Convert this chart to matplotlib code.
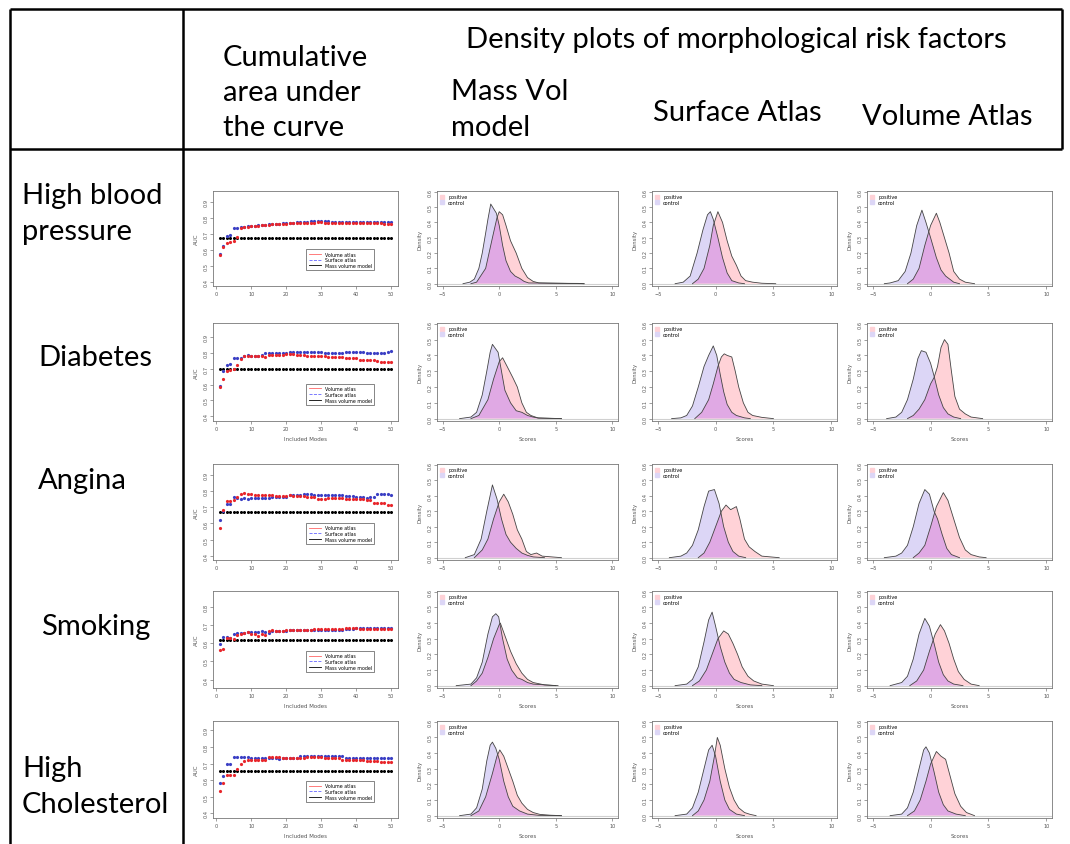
import matplotlib
matplotlib.use("Agg")
import matplotlib.pyplot as plt
from matplotlib.lines import Line2D

W, H = 1070, 845

# --- Text of the table ---
row_labels = ["High blood\npressure", "Diabetes", "Angina", "Smoking", "High\nCholesterol"]
header_auc = "Cumulative\narea under\nthe curve"
header_density = "Density plots of morphological risk factors"
col_titles = ["Mass Vol\nmodel", "Surface Atlas", "Volume Atlas"]

# --- AUC curves (x = included modes 1..50) ---
modes = list(range(1, 51))

hbp_vol = [0.566, 0.620, 0.641, 0.650, 0.658, 0.683, 0.736, 0.742, 0.745, 0.747,
           0.748, 0.752, 0.754, 0.756, 0.758, 0.760, 0.761, 0.762, 0.764, 0.765,
           0.767, 0.767, 0.768, 0.769, 0.769, 0.770, 0.771, 0.771, 0.772, 0.772,
           0.771, 0.771, 0.770, 0.770, 0.770, 0.769, 0.769, 0.769, 0.768, 0.768,
           0.768, 0.768, 0.767, 0.767, 0.767, 0.766, 0.766, 0.765, 0.765, 0.763]
hbp_surf = [0.572, 0.625, 0.688, 0.694, 0.740, 0.740, 0.741, 0.746, 0.748, 0.750,
            0.751, 0.754, 0.756, 0.757, 0.760, 0.762, 0.762, 0.763, 0.766, 0.767,
            0.770, 0.771, 0.773, 0.774, 0.776, 0.777, 0.778, 0.778, 0.779, 0.779,
            0.779, 0.778, 0.777, 0.777, 0.776, 0.776, 0.776, 0.775, 0.775, 0.775,
            0.776, 0.776, 0.775, 0.775, 0.775, 0.774, 0.774, 0.774, 0.774, 0.773]
hbp_mass = 0.677

dia_vol = [0.585, 0.635, 0.683, 0.694, 0.700, 0.725, 0.760, 0.780, 0.780, 0.780,
           0.780, 0.780, 0.780, 0.777, 0.787, 0.787, 0.787, 0.787, 0.787, 0.793,
           0.793, 0.793, 0.790, 0.790, 0.790, 0.780, 0.780, 0.780, 0.780, 0.780,
           0.780, 0.775, 0.775, 0.775, 0.775, 0.775, 0.767, 0.767, 0.767, 0.767,
           0.758, 0.758, 0.758, 0.758, 0.758, 0.752, 0.746, 0.746, 0.746, 0.746]
dia_surf = [0.590, 0.683, 0.725, 0.730, 0.770, 0.770, 0.770, 0.780, 0.787, 0.783,
            0.780, 0.780, 0.787, 0.797, 0.800, 0.800, 0.800, 0.800, 0.800, 0.800,
            0.808, 0.808, 0.808, 0.808, 0.808, 0.808, 0.808, 0.808, 0.808, 0.808,
            0.802, 0.802, 0.802, 0.802, 0.802, 0.802, 0.808, 0.808, 0.808, 0.808,
            0.808, 0.808, 0.802, 0.802, 0.802, 0.802, 0.802, 0.802, 0.806, 0.815]
dia_mass = 0.700

ang_vol = [0.575, 0.685, 0.737, 0.737, 0.742, 0.762, 0.783, 0.785, 0.783, 0.780,
           0.773, 0.773, 0.773, 0.773, 0.773, 0.775, 0.769, 0.769, 0.769, 0.769,
           0.773, 0.769, 0.769, 0.769, 0.769, 0.762, 0.762, 0.762, 0.752, 0.752,
           0.752, 0.756, 0.756, 0.756, 0.756, 0.756, 0.748, 0.748, 0.748, 0.748,
           0.748, 0.748, 0.742, 0.742, 0.727, 0.727, 0.727, 0.727, 0.712, 0.712]
ang_surf = [0.623, 0.675, 0.717, 0.717, 0.762, 0.758, 0.748, 0.754, 0.748, 0.758,
            0.757, 0.757, 0.757, 0.757, 0.757, 0.765, 0.765, 0.765, 0.765, 0.765,
            0.773, 0.773, 0.773, 0.773, 0.783, 0.780, 0.780, 0.773, 0.773, 0.773,
            0.773, 0.773, 0.773, 0.773, 0.773, 0.773, 0.771, 0.771, 0.771, 0.762,
            0.762, 0.762, 0.756, 0.765, 0.765, 0.783, 0.780, 0.780, 0.780, 0.773]
ang_mass = 0.671

smk_vol = [0.562, 0.568, 0.628, 0.628, 0.625, 0.647, 0.653, 0.657, 0.662, 0.653,
           0.653, 0.643, 0.651, 0.647, 0.666, 0.672, 0.666, 0.666, 0.666, 0.675,
           0.675, 0.675, 0.674, 0.674, 0.674, 0.674, 0.674, 0.680, 0.680, 0.680,
           0.680, 0.680, 0.680, 0.680, 0.680, 0.680, 0.683, 0.683, 0.683, 0.683,
           0.680, 0.680, 0.680, 0.680, 0.680, 0.680, 0.680, 0.680, 0.680, 0.680]
smk_surf = [0.594, 0.636, 0.636, 0.632, 0.651, 0.655, 0.657, 0.660, 0.664, 0.664,
            0.664, 0.664, 0.666, 0.664, 0.660, 0.666, 0.666, 0.666, 0.666, 0.666,
            0.672, 0.672, 0.672, 0.672, 0.672, 0.672, 0.672, 0.672, 0.672, 0.672,
            0.672, 0.672, 0.672, 0.672, 0.672, 0.672, 0.680, 0.680, 0.680, 0.685,
            0.685, 0.685, 0.685, 0.685, 0.685, 0.685, 0.685, 0.685, 0.685, 0.685]
smk_mass = 0.617

chol_vol = [0.534, 0.580, 0.630, 0.632, 0.632, 0.668, 0.700, 0.714, 0.722, 0.724,
            0.724, 0.724, 0.724, 0.724, 0.738, 0.738, 0.738, 0.738, 0.734, 0.734,
            0.734, 0.734, 0.734, 0.734, 0.734, 0.740, 0.740, 0.740, 0.740, 0.740,
            0.732, 0.732, 0.732, 0.732, 0.732, 0.724, 0.724, 0.724, 0.724, 0.724,
            0.724, 0.724, 0.718, 0.718, 0.718, 0.718, 0.710, 0.710, 0.710, 0.710]
chol_surf = [0.580, 0.626, 0.700, 0.700, 0.738, 0.740, 0.738, 0.738, 0.738, 0.732,
             0.732, 0.732, 0.732, 0.732, 0.736, 0.736, 0.736, 0.727, 0.734, 0.734,
             0.734, 0.734, 0.734, 0.744, 0.748, 0.748, 0.748, 0.748, 0.748, 0.748,
             0.744, 0.744, 0.744, 0.744, 0.744, 0.744, 0.736, 0.736, 0.736, 0.736,
             0.736, 0.736, 0.736, 0.736, 0.736, 0.736, 0.736, 0.736, 0.736, 0.736]
chol_mass = 0.656

# --- density curves: (score, density) points ---
hbp_mv_ctrl = [(-3.2, 0), (-2.6, 0.01), (-2.2, 0.03), (-1.8, 0.1), (-1.5, 0.2), (-1.2, 0.33), (-1.0, 0.42),
               (-0.75, 0.52), (-0.5, 0.49), (-0.25, 0.46), (0, 0.38), (0.3, 0.25), (0.6, 0.15), (1.0, 0.08),
               (1.4, 0.05), (1.8, 0.035), (2.2, 0.015), (2.6, 0.005), (4.5, 0.004), (7.5, 0)]
hbp_mv_pos = [(-2.5, 0), (-2.0, 0.01), (-1.2, 0.1), (-0.6, 0.3), (-0.2, 0.43), (0, 0.47), (0.3, 0.45),
              (0.6, 0.38), (1.0, 0.28), (1.5, 0.2), (2.0, 0.1), (2.5, 0.04), (3.0, 0.015), (3.5, 0.005),
              (4.5, 0.003), (7.0, 0.002), (7.5, 0)]
hbp_sa_ctrl = [(-3.5, 0), (-2.8, 0.01), (-2.2, 0.05), (-1.6, 0.2), (-1.1, 0.35), (-0.7, 0.45), (-0.45, 0.47),
               (-0.2, 0.42), (0.2, 0.3), (0.6, 0.17), (1.0, 0.07), (1.4, 0.02), (2.0, 0.005), (2.5, 0)]
hbp_sa_pos = [(-2.0, 0), (-1.5, 0.03), (-1.0, 0.1), (-0.5, 0.25), (-0.2, 0.38), (0.2, 0.47), (0.6, 0.4),
              (1.0, 0.28), (1.4, 0.18), (1.8, 0.12), (2.2, 0.05), (2.6, 0.02), (3.2, 0.01), (4.0, 0.003), (5.2, 0)]
hbp_va_ctrl = [(-4.0, 0), (-3.5, 0.005), (-2.8, 0.02), (-2.2, 0.08), (-1.7, 0.2), (-1.2, 0.38), (-0.75, 0.48),
               (-0.4, 0.4), (0, 0.3), (0.5, 0.17), (0.9, 0.09), (1.3, 0.05), (2.0, 0.01), (2.5, 0)]
hbp_va_pos = [(-2.0, 0), (-1.5, 0.03), (-1.0, 0.1), (-0.5, 0.25), (0, 0.38), (0.5, 0.46), (0.8, 0.4),
              (1.2, 0.3), (1.6, 0.2), (2.0, 0.08), (2.5, 0.03), (3.0, 0.01), (3.8, 0)]

dia_mv_ctrl = [(-3.5, 0), (-2.5, 0.01), (-2.0, 0.04), (-1.5, 0.15), (-1.1, 0.3), (-0.8, 0.42), (-0.6, 0.47),
               (-0.3, 0.44), (-0.1, 0.42), (0.2, 0.3), (0.5, 0.18), (1.0, 0.1), (1.5, 0.05), (2.0, 0.04),
               (2.5, 0.02), (3.0, 0.01), (3.5, 0.003), (5.5, 0)]
dia_mv_pos = [(-2.5, 0), (-1.8, 0.02), (-1.0, 0.12), (-0.5, 0.25), (0, 0.36), (0.3, 0.385), (0.7, 0.33),
              (1.2, 0.26), (1.6, 0.2), (2.0, 0.1), (2.4, 0.04), (2.8, 0.02), (3.4, 0.005), (5.5, 0)]
dia_sa_ctrl = [(-3.8, 0), (-3.0, 0.005), (-2.5, 0.02), (-2.0, 0.08), (-1.5, 0.2), (-1.0, 0.33), (-0.6, 0.4),
               (-0.2, 0.46), (0.1, 0.4), (0.4, 0.28), (0.7, 0.17), (1.0, 0.09), (1.4, 0.04), (1.8, 0.02),
               (2.5, 0.005), (3.0, 0)]
dia_sa_pos = [(-1.8, 0), (-1.2, 0.04), (-0.6, 0.12), (-0.2, 0.22), (0.2, 0.33), (0.5, 0.39), (0.75, 0.41),
              (1.0, 0.4), (1.4, 0.39), (1.7, 0.3), (2.0, 0.2), (2.4, 0.1), (2.8, 0.04), (3.2, 0.02),
              (4.0, 0.008), (5.0, 0)]
dia_va_ctrl = [(-3.8, 0), (-3.0, 0.01), (-2.5, 0.04), (-2.0, 0.12), (-1.5, 0.25), (-1.1, 0.38), (-0.8, 0.43),
               (-0.4, 0.42), (0, 0.35), (0.3, 0.27), (0.7, 0.15), (1.1, 0.07), (1.5, 0.03), (2.0, 0.01), (2.6, 0)]
dia_va_pos = [(-2.0, 0), (-1.5, 0.02), (-1.0, 0.06), (-0.5, 0.12), (0, 0.22), (0.3, 0.26), (0.6, 0.33),
              (0.9, 0.45), (1.2, 0.5), (1.5, 0.47), (1.8, 0.3), (2.1, 0.14), (2.5, 0.06), (3.0, 0.03),
              (3.5, 0.01), (4.5, 0)]

ang_mv_ctrl = [(-3.0, 0), (-2.2, 0.02), (-1.6, 0.12), (-1.1, 0.3), (-0.6, 0.47), (-0.2, 0.38), (0.2, 0.25),
               (0.6, 0.15), (1.0, 0.1), (1.5, 0.06), (2.0, 0.03), (2.5, 0.015), (3.0, 0.005), (4.0, 0)]
ang_mv_pos = [(-2.2, 0), (-1.5, 0.05), (-1.0, 0.12), (-0.5, 0.25), (0, 0.36), (0.4, 0.41), (0.8, 0.36),
              (1.2, 0.28), (1.6, 0.18), (2.0, 0.12), (2.4, 0.04), (2.8, 0.02), (3.3, 0.03), (3.8, 0.01), (5.5, 0)]
ang_sa_ctrl = [(-4.0, 0), (-3.0, 0.01), (-2.5, 0.03), (-2.0, 0.08), (-1.5, 0.18), (-1.0, 0.33), (-0.6, 0.43),
               (-0.1, 0.44), (0.3, 0.35), (0.7, 0.2), (1.1, 0.1), (1.5, 0.04), (2.0, 0.01), (2.6, 0)]
ang_sa_pos = [(-1.5, 0), (-1.0, 0.03), (-0.5, 0.1), (0, 0.2), (0.5, 0.3), (0.9, 0.34), (1.3, 0.31),
              (1.8, 0.33), (2.1, 0.25), (2.5, 0.12), (2.9, 0.07), (3.4, 0.04), (4.0, 0.01), (5.5, 0)]
ang_va_ctrl = [(-4.0, 0), (-3.0, 0.01), (-2.5, 0.03), (-2.0, 0.08), (-1.5, 0.2), (-1.0, 0.35), (-0.5, 0.44),
               (-0.1, 0.41), (0.3, 0.3), (0.6, 0.25), (1.0, 0.15), (1.4, 0.06), (1.8, 0.02), (2.5, 0)]
ang_va_pos = [(-1.5, 0), (-1.0, 0.03), (-0.5, 0.08), (0, 0.2), (0.5, 0.33), (1.1, 0.42), (1.5, 0.37),
              (2.0, 0.25), (2.5, 0.13), (3.0, 0.05), (3.5, 0.02), (4.2, 0.005), (4.8, 0)]

smk_mv_ctrl = [(-3.8, 0), (-2.5, 0.01), (-2.0, 0.05), (-1.5, 0.15), (-1.0, 0.33), (-0.6, 0.44), (-0.3, 0.46),
               (-0.05, 0.44), (0.3, 0.3), (0.7, 0.17), (1.1, 0.1), (1.6, 0.05), (2.0, 0.04), (2.5, 0.02),
               (3.0, 0.01), (4.0, 0.005), (5.0, 0)]
smk_mv_pos = [(-2.5, 0), (-2.0, 0.03), (-1.5, 0.08), (-1.0, 0.18), (-0.5, 0.3), (0, 0.39), (0.1, 0.4),
              (0.5, 0.32), (1.0, 0.22), (1.5, 0.14), (2.0, 0.08), (2.5, 0.04), (3.0, 0.02), (4.0, 0.005), (5.2, 0)]
smk_sa_ctrl = [(-3.5, 0), (-2.5, 0.01), (-2.0, 0.04), (-1.5, 0.12), (-1.0, 0.28), (-0.6, 0.42), (-0.3, 0.47),
               (0, 0.38), (0.4, 0.25), (0.8, 0.15), (1.2, 0.08), (1.6, 0.04), (2.2, 0.02), (3.0, 0.005), (4.0, 0)]
smk_sa_pos = [(-2.0, 0), (-1.4, 0.03), (-0.8, 0.1), (-0.3, 0.2), (0.2, 0.3), (0.7, 0.35), (1.1, 0.33),
              (1.5, 0.27), (1.9, 0.2), (2.3, 0.12), (2.8, 0.06), (3.3, 0.03), (4.0, 0.01), (5.0, 0)]
smk_va_ctrl = [(-3.5, 0), (-2.5, 0.02), (-2.0, 0.06), (-1.5, 0.17), (-1.0, 0.33), (-0.5, 0.43), (-0.1, 0.38),
               (0.3, 0.27), (0.7, 0.15), (1.1, 0.07), (1.5, 0.03), (2.0, 0.01), (2.8, 0)]
smk_va_pos = [(-1.8, 0), (-1.2, 0.03), (-0.6, 0.1), (-0.1, 0.22), (0.4, 0.33), (0.85, 0.39), (1.2, 0.35),
              (1.6, 0.27), (2.0, 0.17), (2.4, 0.09), (2.9, 0.04), (3.5, 0.01), (4.2, 0)]

chol_mv_ctrl = [(-3.5, 0), (-2.5, 0.01), (-2.0, 0.05), (-1.5, 0.17), (-1.1, 0.35), (-0.8, 0.45), (-0.6, 0.47),
                (-0.3, 0.43), (0, 0.36), (0.4, 0.22), (0.8, 0.12), (1.2, 0.06), (1.8, 0.03), (2.5, 0.01),
                (3.5, 0.002), (5.5, 0)]
chol_mv_pos = [(-2.5, 0), (-1.8, 0.03), (-1.2, 0.12), (-0.6, 0.27), (-0.2, 0.38), (0.05, 0.42), (0.4, 0.38),
               (0.8, 0.3), (1.2, 0.22), (1.6, 0.13), (2.0, 0.08), (2.5, 0.04), (3.0, 0.02), (3.6, 0.008),
               (4.5, 0.003), (5.5, 0)]
chol_sa_ctrl = [(-3.5, 0), (-2.5, 0.01), (-2.0, 0.05), (-1.5, 0.15), (-1.0, 0.3), (-0.6, 0.42), (-0.3, 0.45),
                (0, 0.38), (0.4, 0.22), (0.8, 0.1), (1.2, 0.04), (1.8, 0.01), (2.5, 0)]
chol_sa_pos = [(-2.0, 0), (-1.5, 0.03), (-1.0, 0.1), (-0.5, 0.22), (-0.1, 0.38), (0.15, 0.5), (0.4, 0.45),
               (0.8, 0.3), (1.2, 0.18), (1.6, 0.1), (2.0, 0.05), (2.5, 0.02), (3.0, 0.008), (3.5, 0)]
chol_va_ctrl = [(-3.5, 0), (-2.5, 0.01), (-2.0, 0.05), (-1.5, 0.15), (-1.0, 0.3), (-0.6, 0.42), (-0.4, 0.44),
                (-0.1, 0.4), (0.3, 0.28), (0.7, 0.15), (1.1, 0.07), (1.5, 0.03), (2.2, 0.01), (3.0, 0)]
chol_va_pos = [(-2.0, 0), (-1.4, 0.03), (-0.9, 0.1), (-0.4, 0.22), (0, 0.33), (0.5, 0.41), (0.9, 0.38),
               (1.3, 0.36), (1.7, 0.25), (2.1, 0.14), (2.6, 0.06), (3.1, 0.02), (3.8, 0)]

auc_rows = [(hbp_vol, hbp_surf, hbp_mass), (dia_vol, dia_surf, dia_mass), (ang_vol, ang_surf, ang_mass),
            (smk_vol, smk_surf, smk_mass), (chol_vol, chol_surf, chol_mass)]
dens_rows = [[(hbp_mv_ctrl, hbp_mv_pos), (hbp_sa_ctrl, hbp_sa_pos), (hbp_va_ctrl, hbp_va_pos)],
             [(dia_mv_ctrl, dia_mv_pos), (dia_sa_ctrl, dia_sa_pos), (dia_va_ctrl, dia_va_pos)],
             [(ang_mv_ctrl, ang_mv_pos), (ang_sa_ctrl, ang_sa_pos), (ang_va_ctrl, ang_va_pos)],
             [(smk_mv_ctrl, smk_mv_pos), (smk_sa_ctrl, smk_sa_pos), (smk_va_ctrl, smk_va_pos)],
             [(chol_mv_ctrl, chol_mv_pos), (chol_sa_ctrl, chol_sa_pos), (chol_va_ctrl, chol_va_pos)]]

# --- layout (pixels) ---
row_y = [(192, 287), (324, 422), (465, 561), (592, 689), (722, 819)]
col_x = [(213, 398), (437, 618), (652, 837), (867, 1052)]
auc_ylims = [(0.373, 0.969), (0.369, 0.99), (0.375, 0.966), (0.353, 0.89), (0.372, 0.956)]
auc_yticks = [[0.4, 0.5, 0.6, 0.7, 0.8, 0.9]] * 3 + [[0.4, 0.5, 0.6, 0.7, 0.8]] + [[0.4, 0.5, 0.6, 0.7, 0.8, 0.9]]
with_xlabel = [False, True, False, True, True]

SPINE = "#777777"
TXT = "#555555"
POS_COL = "#ffd2d7"
CTRL_COL = "#dcd6f6"
OVER_COL = "#e0a9e4"


def px_axes(fig, x0, x1, y0, y1):
    return fig.add_axes([x0 / W, 1 - y1 / H, (x1 - x0) / W, (y1 - y0) / H])


def r_style(ax):
    for s in ax.spines.values():
        s.set_color(SPINE)
        s.set_linewidth(0.6)
    ax.tick_params(direction="out", length=2, width=0.5, color=SPINE, labelsize=3.6,
                   labelcolor=TXT, pad=1.5)
    for lab in ax.get_yticklabels():
        lab.set_rotation(90)
        lab.set_va("center")


fig = plt.figure(figsize=(W / 100, H / 100), dpi=100)
font = "Lato"
FS = 21
LS = 1.45

# table lines
lk = dict(color="black", lw=1.8, solid_capstyle="butt")
fig.add_artist(Line2D([10 / W, 1062 / W], [1 - 10 / H, 1 - 10 / H], **lk))
fig.add_artist(Line2D([10 / W, 1062 / W], [1 - 150 / H, 1 - 150 / H], **lk))
fig.add_artist(Line2D([10 / W, 10 / W], [1 - 10 / H, 0], **lk))
fig.add_artist(Line2D([183 / W, 183 / W], [1 - 10 / H, 0], **lk))
fig.add_artist(Line2D([1062 / W, 1062 / W], [1 - 10 / H, 1 - 150 / H], **lk))

# headers
fig.text(223 / W, 1 - 93 / H, header_auc, fontsize=FS, family=font, va="center", ha="left",
         linespacing=LS)
fig.text(736 / W, 1 - 40 / H, header_density, fontsize=FS, family=font, va="center", ha="center")
fig.text(451 / W, 1 - 110 / H, col_titles[0], fontsize=FS, family=font, va="center", ha="left",
         linespacing=LS)
fig.text(737 / W, 1 - 113 / H, col_titles[1], fontsize=FS, family=font, va="center", ha="center")
fig.text(947 / W, 1 - 117 / H, col_titles[2], fontsize=FS, family=font, va="center", ha="center")

label_pos = [(22, 214, "left"), (95, 358, "center"), (82, 481, "center"), (96, 627, "center"), (22, 787, "left")]
for lab, (lx, ly, ha) in zip(row_labels, label_pos):
    fig.text(lx / W, 1 - ly / H, lab, fontsize=FS, family=font, va="center", ha=ha, linespacing=LS)

for r in range(5):
    y0, y1 = row_y[r]
    # cumulative AUC panel
    vol, surf, mass = auc_rows[r]
    ax = px_axes(fig, col_x[0][0], col_x[0][1], y0, y1)
    ax.plot(modes, [mass] * len(modes), "o", color="black", ms=2.2, mew=0)
    ax.plot(modes, surf, "o", color="#3b3fc4", ms=2.3, mew=0)
    ax.plot(modes, vol, "o", color="#e8262b", ms=2.3, mew=0)
    ax.set_xlim(-0.96, 51.96)
    ax.set_ylim(*auc_ylims[r])
    ax.set_xticks([0, 10, 20, 30, 40, 50])
    ax.set_yticks(auc_yticks[r])
    ax.set_ylabel("AUC", fontsize=4, color=TXT, labelpad=3)
    if with_xlabel[r]:
        ax.set_xlabel("Included Modes", fontsize=4, color=TXT, labelpad=4)
    handles = [Line2D([], [], color="#ff6666", lw=0.6),
               Line2D([], [], color="#6666ff", lw=0.6, ls="--"),
               Line2D([], [], color="black", lw=0.6)]
    leg = ax.legend(handles, ["Volume atlas", "Surface atlas", "Mass volume model"], loc="lower right",
                    bbox_to_anchor=(0.885, 0.14), fontsize=3.4, handlelength=2.6, borderpad=0.5,
                    labelspacing=0.15, fancybox=False, framealpha=1)
    leg.get_frame().set_edgecolor("#555555")
    leg.get_frame().set_linewidth(0.5)
    r_style(ax)

    # density panels
    for c in range(3):
        ctrl, pos = dens_rows[r][c]
        ax = px_axes(fig, col_x[c + 1][0], col_x[c + 1][1], y0, y1)
        ax.axhline(0, color="#d0d0d0", lw=0.8, zorder=0)
        px, py = zip(*pos)
        cx, cy = zip(*ctrl)
        ctrl_patch = ax.fill(cx, cy, color=CTRL_COL, lw=0)[0]
        ax.fill(px, py, color=POS_COL, lw=0)
        over = ax.fill(px, py, color=OVER_COL, lw=0)[0]
        over.set_clip_path(ctrl_patch)
        ax.plot(px, py, color="#444444", lw=0.6)
        ax.plot(cx, cy, color="#444444", lw=0.6)
        ax.set_xlim(-5.5, 10.5)
        ax.set_ylim(-0.015, 0.605)
        ax.set_xticks([-5, 0, 5, 10])
        ax.set_yticks([0, 0.1, 0.2, 0.3, 0.4, 0.5, 0.6])
        ax.set_yticklabels(["0.0", "0.1", "0.2", "0.3", "0.4", "0.5", "0.6"])
        ax.set_ylabel("Density", fontsize=3.8, color=TXT, labelpad=3)
        if with_xlabel[r]:
            ax.set_xlabel("Scores", fontsize=4, color=TXT, labelpad=4)
        lh = [plt.Rectangle((0, 0), 1, 1, color=POS_COL),
              plt.Rectangle((0, 0), 1, 1, color=CTRL_COL)]
        ax.legend(lh, ["positive", "control"], loc="upper left", fontsize=3.5, frameon=False,
                  handlelength=0.8, handleheight=0.8, labelspacing=0.1, borderaxespad=0.3,
                  handletextpad=0.8)
        r_style(ax)

fig.savefig("out.png", dpi=100)
